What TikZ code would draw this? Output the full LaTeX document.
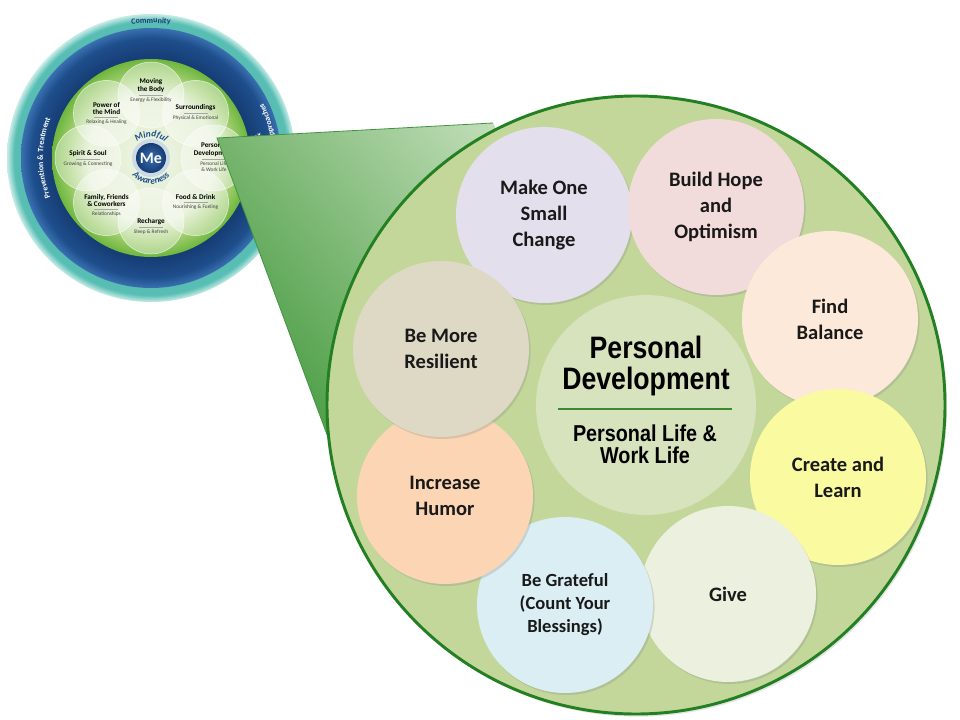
\documentclass[tikz,border=0pt]{standalone}
\usepackage{fontspec}
\setmainfont{Carlito}
\newfontfamily\narrowfont[FakeStretch=0.86]{Liberation Sans}
\usetikzlibrary{shadows,decorations.text}

\definecolor{rimgreen}{RGB}{34,128,34}
\definecolor{zonegreen}{RGB}{196,215,155}
\definecolor{hubgreen}{RGB}{214,227,188}
\definecolor{rulegreen}{RGB}{58,138,46}
\definecolor{wedgedark}{RGB}{76,158,69}
\definecolor{wedgelight}{RGB}{205,228,196}
\definecolor{changefill}{RGB}{228,223,236}
\definecolor{hopefill}{RGB}{242,220,219}
\definecolor{balancefill}{RGB}{253,233,217}
\definecolor{learnfill}{RGB}{250,250,160}
\definecolor{givefill}{RGB}{235,241,222}
\definecolor{gratefulfill}{RGB}{218,238,243}
\definecolor{humorfill}{RGB}{252,213,180}
\definecolor{resilientfill}{RGB}{221,217,196}
\definecolor{ringteal}{RGB}{88,190,180}
\definecolor{ringpale}{RGB}{200,236,231}
\definecolor{navydark}{RGB}{22,60,115}
\definecolor{navymid}{RGB}{30,78,140}
\definecolor{navylight}{RGB}{58,112,176}
\definecolor{leafgreen}{RGB}{110,182,62}
\definecolor{leafmid}{RGB}{160,206,110}
\definecolor{leafpale}{RGB}{220,235,200}
\definecolor{leafcore}{RGB}{240,246,232}

\pgfdeclareradialshading{tealring}{\pgfpoint{0bp}{0bp}}{color(0bp)=(ringteal); color(23.8bp)=(ringteal); color(25bp)=(ringpale); color(50bp)=(ringpale)}
\pgfdeclareradialshading{navyring}{\pgfpoint{0bp}{0bp}}{color(0bp)=(navydark); color(19bp)=(navydark); color(23bp)=(navymid); color(25bp)=(navylight); color(50bp)=(navylight)}
\pgfdeclareradialshading{leafdisc}{\pgfpoint{0bp}{0bp}}{color(0bp)=(leafcore); color(16bp)=(leafpale); color(21bp)=(leafmid); color(25bp)=(leafgreen); color(50bp)=(leafgreen)}

\newcommand{\ringfont}{\bfseries\fontsize{6}{6}\selectfont}

\begin{document}
\begin{tikzpicture}[x=0.75pt,y=-0.75pt,
    spot/.style={circle, minimum size=132pt, inner sep=0pt, align=center,
      text=black!90, font=\bfseries\fontsize{15.4}{19.5}\selectfont,
      drop shadow={opacity=0.25, shadow xshift=1.2pt, shadow yshift=-1.5pt}},
    petal/.style={circle, minimum size=49.5pt, fill=white, fill opacity=0.4,
      draw=white, draw opacity=0.7, line width=0.4pt},
    ptitle/.style={font=\bfseries\fontsize{5.4}{5.6}\selectfont, align=center, inner sep=0.6pt},
    psub/.style={font=\fontsize{4}{4.4}\selectfont, text=black!75, align=center, inner sep=0.6pt},
    wedgeedge/.style={draw=rimgreen!85, line width=0.6pt}]
    \fill[white] (0,0) rectangle (960,720);
    \useasboundingbox (0,0) rectangle (960,720);
    % the wheel
    \begin{scope}[shift={(151,158)}, y=0.75pt]
      \shade[shading=tealring] (0,0) circle (144);
      \shade[shading=navyring] (0,0) circle (130);
      \shade[shading=leafdisc] (0,0) circle (99);
      \path[decorate, decoration={text along path, text align=center, text color=navydark,
        text={|\ringfont|Community}}] (112:135) arc[start angle=112, end angle=68, radius=135];
      \path[decorate, decoration={text along path, text align=center, text color=white,
        text={|\ringfont|Prevention {\&} Treatment}}] (235:108) arc[start angle=235, end angle=125, radius=108];
      \path[decorate, decoration={text along path, text align=right, text color=white,
        text={|\ringfont|Conventional {\&}}}] (-40:112) arc[start angle=-40, end angle=13, radius=112];
      \path[decorate, decoration={text along path, text align=right, text color=white,
        text={|\ringfont|Complementary Approaches}}] (-50:125) arc[start angle=-50, end angle=26, radius=125];
      \foreach \ang in {90,45,0,-45,-90,-135,180,135}
        \node[petal] (petal\ang) at (\ang:63) {};
      \foreach \ang/\ttl/\sub/\off in {90/{Moving\\the Body}/{Energy \& Flexibility}/0,
          45/Surroundings/{Physical \& Emotional}/0,
          0/{Personal\\Development}/{Personal Life\\\& Work Life}/-1,
          -45/{Food \& Drink}/{Nourishing \& Fueling}/0,
          -90/Recharge/{Sleep \& Refresh}/-6,
          -135/{Family, Friends\\\& Coworkers}/Relationships/-7,
          180/{Spirit \& Soul}/{Growing \& Connecting}/-1,
          135/{Power of\\the Mind}/{Relaxing \& Healing}/-4}{
        \node[ptitle, anchor=south] (pt\ang) at ([yshift={(\off+1.5)*0.75pt}]petal\ang.center) {\ttl};
        \node[psub, anchor=north] (ps\ang) at ([yshift={(\off-1.5)*0.75pt}]petal\ang.center) {\sub};
        \draw[black!35, line width=0.3pt] ([xshift=-9pt, yshift={\off*0.75pt}]petal\ang.center)
          -- ([xshift=9pt, yshift={\off*0.75pt}]petal\ang.center);
      }
      \fill[navylight!30!white, opacity=0.8] (0,0) circle (19);
      \node[circle, minimum size=22.5pt, inner sep=0pt, inner color=navylight, outer color=navydark,
        text=white, font=\bfseries\fontsize{12}{12}\selectfont] (me) at (0,0) {Me};
      \path[decorate, decoration={text along path, text align=center, text color=navymid,
        text={|\bfseries\itshape\fontsize{7}{7}\selectfont|Mindful}}] (150:21) arc[start angle=150, end angle=30, radius=21];
      \path[decorate, decoration={text along path, text align=center, text color=navymid,
        text={|\bfseries\itshape\fontsize{7}{7}\selectfont|Awareness}}] (205:26) arc[start angle=205, end angle=335, radius=26];
    \end{scope}
    % callout
    \coordinate (tip) at (217,138);
    \coordinate (wtop) at (493,123);
    \coordinate (wbot) at (329,440);
    \coordinate (zonec) at (636,405);
    \shade[top color=wedgelight, bottom color=wedgedark, shading angle=-50]
      (tip) -- (wtop) -- (zonec) -- (wbot) -- cycle;
    \draw[wedgeedge] (wtop) -- (tip) -- (wbot);
    \node[circle, minimum size=463.5pt, fill=zonegreen, draw=rimgreen, line width=2.2pt,
      drop shadow={opacity=0.2, shadow xshift=1.5pt, shadow yshift=-2pt}] (zone) at (zonec) {};
    \node[circle, minimum size=165pt, fill=hubgreen] (hub) at (646,405) {};
    \node[font=\narrowfont\bfseries\fontsize{23.25}{23}\selectfont, align=center] (hubtitle)
      at (646,366) {Personal\\Development};
    \coordinate (ruleL) at (558,409);
    \coordinate (ruleR) at (732,409);
    \draw[rulegreen, line width=2pt] (ruleL) -- (ruleR);
    \node[font=\narrowfont\bfseries\fontsize{17.25}{16.5}\selectfont, align=center] (hubsub)
      at (645,444) {Personal Life \&\\Work Life};
    \node[spot, fill=changefill] (change) at (544,215) {Make One\\Small\\Change};
    \node[spot, fill=hopefill] (hope) at (716,207) {Build Hope\\and\\Optimism};
    \node[spot, fill=balancefill] (balance) at (830,319) {Find\\Balance};
    \node[spot, fill=learnfill] (learn) at (838,477) {Create and\\Learn};
    \node[spot, fill=givefill] (give) at (728,594) {Give};
    \node[spot, fill=gratefulfill, font=\bfseries\fontsize{13.9}{17.25}\selectfont] (grateful)
      at (565,605) {Be Grateful\\(Count Your\\Blessings)};
    \node[spot, fill=humorfill] (humor) at (445,496) {Increase\\Humor};
    \node[spot, fill=resilientfill] (resilient) at (441,349) {Be More\\Resilient};
\end{tikzpicture}
\end{document}
